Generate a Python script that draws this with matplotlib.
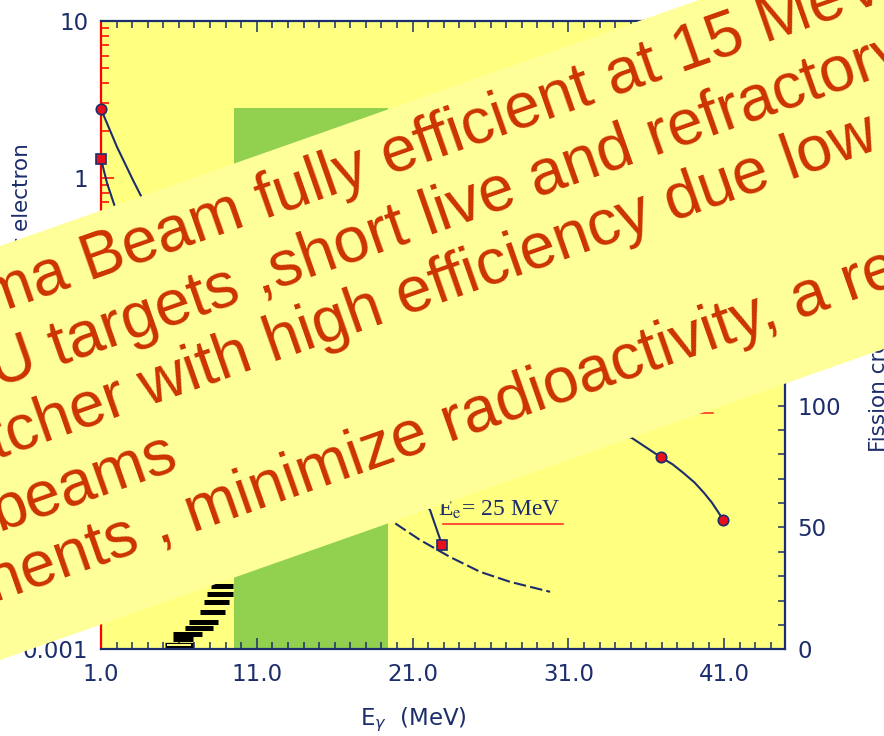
import numpy as np
import matplotlib
matplotlib.use("Agg")
import matplotlib.pyplot as plt
from matplotlib.patches import Polygon
from matplotlib.ticker import (FixedLocator, MultipleLocator, LogLocator,
                               FuncFormatter, NullFormatter)

plt.rcParams['font.family'] = ['DejaVu Sans']

W, H = 884, 736
NAVY = '#1C2D6B'
PLOT_BG = '#FFFF80'
BANNER_BG = '#FFFF99'
BANNER_TXT = '#CC3300'
GREEN = '#92D050'

# ---------------- data ----------------
# bremsstrahlung photons per electron, circle series (left, log axis)
circle_curve_x = [1.0, 2.03, 3.05, 3.70, 6.0, 10.0, 15.0, 20.0, 25.0, 30.0,
                  35.08, 36.94, 37.7, 38.4, 39.1, 39.7, 40.2, 40.6, 40.94]
circle_curve_y = [2.74, 1.57, 0.969, 0.722, 0.42, 0.22, 0.12, 0.075, 0.048,
                  0.032, 0.0221, 0.01667, 0.0150, 0.0132, 0.0115, 0.0099,
                  0.0086, 0.0075, 0.00665]
circle_pts_x = [1.0, 36.94, 40.94]
circle_pts_y = [2.74, 0.01667, 0.00665]

# square series (E_e = 25 MeV)
square_curve_x = [1.0, 1.385, 1.9, 3.0, 5.0, 8.0, 12.0, 16.0, 20.0, 22.12, 22.89]
square_curve_y = [1.318, 0.927, 0.652, 0.35, 0.17, 0.085, 0.045, 0.025,
                  0.013, 0.00769, 0.00461]
square_pts_x = [1.0, 22.89]
square_pts_y = [1.318, 0.00461]

# low-energy bins (horizontal bars)
bar_y = [0.00253, 0.00225, 0.00200, 0.00173, 0.00149, 0.00137, 0.00125, 0.00116]
bar_x0 = [8.06, 7.80, 7.61, 7.35, 6.65, 6.39, 5.62, 5.62]
bar_x1 = [9.47, 9.47, 9.22, 8.96, 8.51, 8.19, 7.48, 6.90]
open_bar_y = 0.00106
open_bar_x = (5.11, 6.90)

# highlighted energy window
band_x = (9.55, 19.40)
band_top = 2.80

# fission cross section (right axis)
fis_x = [18.5, 19.74, 21.47, 23.40, 25.33, 27.25, 29.82]
fis_y = [62.0, 52.3, 44.9, 37.9, 31.8, 27.7, 23.6]

x_major = [1, 11, 21, 31, 41]

banner_lines = [
    "ma Beam fully efficient at 15 MeV",
    "U targets ,short live and refractory",
    "tcher with high efficiency due low",
    "beams",
    "hents , minimize radioactivity, a re",
]


def fig_xy(px, py):
    """pixel (from top-left) -> figure fraction"""
    return px / W, 1.0 - py / H


fig = plt.figure(figsize=(W / 100, H / 100), dpi=100)
fig.patch.set_facecolor('white')

left, right, top, bottom = 101, 785, 20.7, 649.3
ax = fig.add_axes([left / W, 1 - bottom / H, (right - left) / W, (bottom - top) / H])
ax.set_facecolor(PLOT_BG)
ax.set_yscale('log')
ax.set_xlim(1.0, 44.9)
ax.set_ylim(0.001, 10)

ax2 = ax.twinx()
ax2.set_ylim(0, 258)

# green window
ax.bar(band_x[0], band_top - 0.001, width=band_x[1] - band_x[0], bottom=0.001,
       align='edge', color=GREEN, linewidth=0, zorder=1)

# horizontal bins
ax.hlines(bar_y, bar_x0, bar_x1, colors='black', linewidth=3.6, zorder=2)
ax.hlines([open_bar_y], [open_bar_x[0]], [open_bar_x[1]], colors='black',
          linewidth=3.8, zorder=2)
ax.hlines([open_bar_y], [open_bar_x[0] + 0.15], [open_bar_x[1] - 0.15],
          colors=PLOT_BG, linewidth=1.4, zorder=2.1)

# spectra
ax.plot(circle_curve_x, circle_curve_y, color=NAVY, lw=1.5, zorder=3)
ax.plot(square_curve_x, square_curve_y, color=NAVY, lw=1.5, zorder=3)
ax.plot(circle_pts_x, circle_pts_y, 'o', ms=7.5, mfc='#E8101A', mec=NAVY,
        mew=1.2, zorder=4, clip_on=False)
ax.plot(square_pts_x, square_pts_y, 's', ms=6.5, mfc='#E8101A', mec=NAVY,
        mew=1.2, zorder=4, clip_on=False)

# fission cross section
ax2.plot(fis_x, fis_y, color=NAVY, lw=1.5, linestyle=(0, (6, 2)), zorder=3)

# labels inside the plot
ax.text(0.4927, 0.2121, r"E$_{\rm e}$= 25 MeV", transform=ax.transAxes,
        family=['Liberation Serif', 'DejaVu Serif'], math_fontfamily='stix',
        fontsize=17, color=NAVY, ha='left', va='baseline', zorder=5)
ax.plot([0.5, 0.6754], [0.1993, 0.1993], transform=ax.transAxes,
        color='#FF2020', lw=1.1, zorder=5)
ax.plot([0.7193, 0.8947], [0.3759, 0.3759], transform=ax.transAxes,
        color='#FF2020', lw=1.1, zorder=5)

# spines
for s in ('top', 'bottom'):
    ax.spines[s].set_color(NAVY)
    ax.spines[s].set_linewidth(1.6)
ax.spines['left'].set_color('red')
ax.spines['left'].set_linewidth(1.6)
ax.spines['right'].set_visible(False)
for s in ('left', 'top', 'bottom'):
    ax2.spines[s].set_visible(False)
ax2.spines['right'].set_color(NAVY)
ax2.spines['right'].set_linewidth(1.6)

TICK_FS = 16.5

# x ticks
ax.xaxis.set_major_locator(FixedLocator(x_major))
ax.xaxis.set_minor_locator(FixedLocator(np.arange(1, 45, 1)))
ax.xaxis.set_major_formatter(FuncFormatter(lambda v, _: f"{v:.1f}"))
ax.tick_params(axis='x', which='both', direction='in', top=True, bottom=True,
               color=NAVY, labelcolor=NAVY, labelsize=TICK_FS, pad=10, width=1.1)
ax.tick_params(axis='x', which='major', length=8)
ax.tick_params(axis='x', which='minor', length=5)

# left log ticks
ax.yaxis.set_major_locator(LogLocator(base=10))
ax.yaxis.set_minor_locator(LogLocator(base=10, subs=np.arange(2, 10)))
ax.yaxis.set_major_formatter(FuncFormatter(lambda v, _: f"{v:g}"))
ax.yaxis.set_minor_formatter(NullFormatter())
ax.tick_params(axis='y', which='both', direction='in', left=True, right=False,
               color='red', labelcolor=NAVY, labelsize=TICK_FS, pad=9, width=1.1)
ax.tick_params(axis='y', which='major', length=9.5)
ax.tick_params(axis='y', which='minor', length=6)

# right ticks
ax2.yaxis.set_major_locator(MultipleLocator(50))
ax2.yaxis.set_minor_locator(MultipleLocator(10))
ax2.yaxis.set_major_formatter(FuncFormatter(lambda v, _: f"{v:g}"))
ax2.tick_params(axis='y', which='both', direction='in', right=True, left=False,
                color=NAVY, labelcolor=NAVY, labelsize=TICK_FS, pad=9, width=1.1,
                length=5)

# axis titles
fig.text(*fig_xy(12.5, 143), "Photons per electron", rotation=90,
         ha='left', va='top', fontsize=15.5, color=NAVY)
fig.text(*fig_xy(869, 452), "Fission cross section (mb)", rotation=90,
         ha='left', va='bottom', fontsize=15.5, color=NAVY)
fig.text(*fig_xy(413.5, 725), r"E$_\gamma$  (MeV)", ha='center',
         va='baseline', fontsize=16.5, color=NAVY)

# slanted note banner
slope = 0.352
angle = np.degrees(np.arctan(slope))
top0, bot0 = 246.0, 660.0
xs = (-80.0, 980.0)
poly_px = [(xs[0], top0 - slope * xs[0]), (xs[1], top0 - slope * xs[1]),
           (xs[1], bot0 - slope * xs[1]), (xs[0], bot0 - slope * xs[0])]
poly = Polygon([fig_xy(px, py) for px, py in poly_px], closed=True,
               transform=fig.transFigure, facecolor=BANNER_BG,
               edgecolor='none', zorder=10)
fig.add_artist(poly)

line_start = [-12, -3, -4, -1, -6]
line_base0 = [313, 387, 458, 530, 601]
for txt, x0, b0 in zip(banner_lines, line_start, line_base0):
    fx, fy = fig_xy(x0, b0 - slope * x0)
    fig.text(fx, fy, txt, rotation=angle, rotation_mode='anchor',
             ha='left', va='baseline', fontsize=46.3, color=BANNER_TXT,
             family=['Liberation Sans', 'DejaVu Sans'], zorder=11)

fig.savefig('out.png', dpi=100, facecolor='white')
